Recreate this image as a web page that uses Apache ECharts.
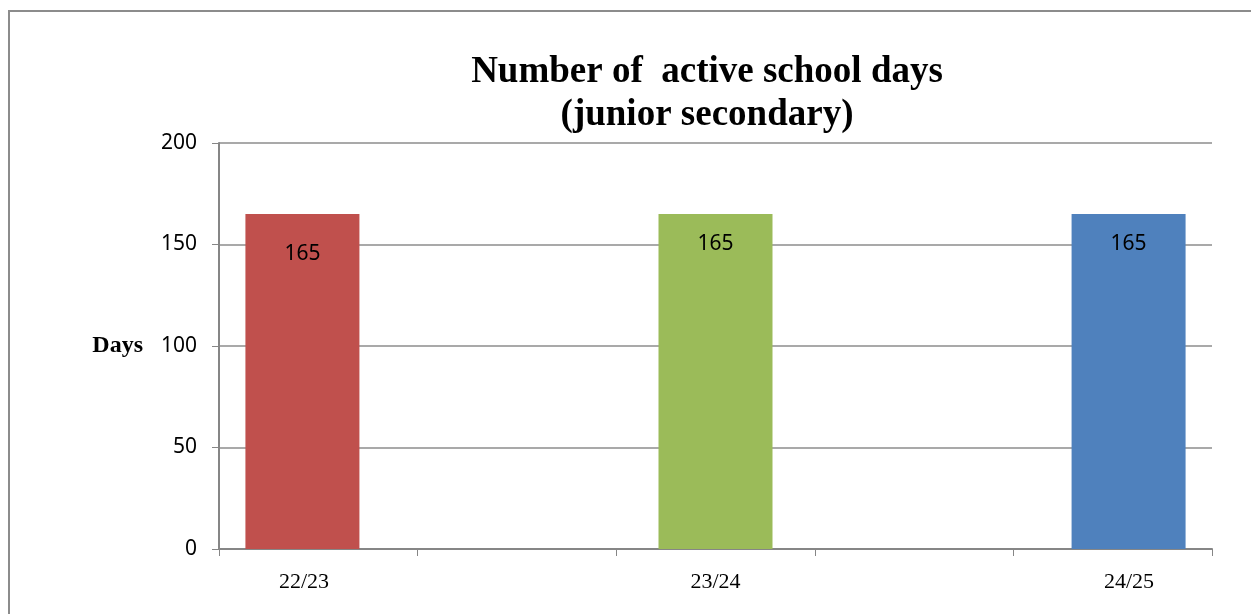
<!DOCTYPE html>
<html>
<head>
<meta charset="utf-8">
<title>Number of active school days</title>
<script src="https://cdn.jsdelivr.net/npm/echarts@6/dist/echarts.min.js"></script>
<style>
  html, body { margin: 0; padding: 0; background: #fff; }
  #chart { width: 1251px; height: 614px; }
</style>
</head>
<body>
<div id="chart"></div>
<script>
const categories = ['22/23', '23/24', '24/25']
const series2223 = [165, '-', '-']
const series2324 = ['-', 165, '-']
const series2425 = ['-', '-', 165]
const yTicks = [0, 50, 100, 150, 200]
const tickSlots = ['', '', '', '', '']

const chart = echarts.init(document.getElementById('chart'))

const barLabel = (dist) => ({
  show: true,
  position: 'insideTop',
  distance: dist,
  color: '#000',
  fontFamily: 'Noto Sans',
  fontSize: 21
})

// category labels sit under the bars, not the category middle
const labelStyle = {
  fontFamily: 'Liberation Serif',
  fontSize: 22,
  color: '#000'
}

const option = {
  animation: false,
  backgroundColor: '#fff',
  graphic: [
    {
      type: 'rect',
      shape: { x: 9, y: 11, width: 1300, height: 700 },
      style: { fill: 'none', stroke: '#8c8c8c', lineWidth: 2 }
    }
  ],
  title: {
    text: 'Number of  active school days\n(junior secondary)',
    left: 702,
    top: 46,
    textAlign: 'center',
    textStyle: {
      fontFamily: 'Liberation Serif',
      fontWeight: 'bold',
      fontSize: 37,
      lineHeight: 43,
      color: '#000'
    }
  },
  grid: {
    left: 219,
    right: 39,
    top: 143,
    bottom: 65
  },
  xAxis: [
    {
      type: 'category',
      data: categories,
      axisLine: { show: false },
      axisTick: { show: false },
      axisLabel: {
        margin: 22,
        formatter: (value, idx) => ['{l|', '{m|', '{r|'][idx] + value + '}',
        rich: {
          l: Object.assign({ padding: [0, 161, 0, 0] }, labelStyle),
          m: Object.assign({}, labelStyle),
          r: Object.assign({ padding: [0, 0, 0, 165] }, labelStyle)
        }
      }
    },
    {
      type: 'category',
      data: tickSlots,
      position: 'bottom',
      axisLine: { lineStyle: { color: '#868686', width: 2 } },
      axisTick: { show: true, length: 7, lineStyle: { color: '#868686', width: 1 } },
      axisLabel: { show: false }
    }
  ],
  yAxis: {
    type: 'value',
    min: yTicks[0],
    max: yTicks[yTicks.length - 1],
    interval: 50,
    name: 'Days',
    nameLocation: 'middle',
    nameRotate: 0,
    nameGap: 76,
    nameTextStyle: {
      fontFamily: 'Liberation Serif',
      fontWeight: 'bold',
      fontSize: 24,
      color: '#000'
    },
    axisLine: { show: true, lineStyle: { color: '#868686', width: 2 } },
    axisTick: { show: true, length: 7, lineStyle: { color: '#868686' } },
    axisLabel: {
      margin: 22,
      fontFamily: 'Noto Sans',
      fontSize: 21,
      color: '#000'
    },
    splitLine: {
      lineStyle: { color: '#8c8c8c', width: 1.5 }
    }
  },
  series: [
    {
      name: '22/23',
      type: 'bar',
      data: series2223,
      barWidth: 114,
      barGap: '-28%',
      itemStyle: { color: '#C0504D' },
      label: barLabel(29)
    },
    {
      name: '23/24',
      type: 'bar',
      data: series2324,
      barWidth: 114,
      barGap: '-28%',
      itemStyle: { color: '#9BBB59' },
      label: barLabel(19)
    },
    {
      name: '24/25',
      type: 'bar',
      data: series2425,
      barWidth: 114,
      barGap: '-28%',
      itemStyle: { color: '#4F81BD' },
      label: barLabel(19)
    }
  ]
}

chart.setOption(option)
</script>
</body>
</html>
